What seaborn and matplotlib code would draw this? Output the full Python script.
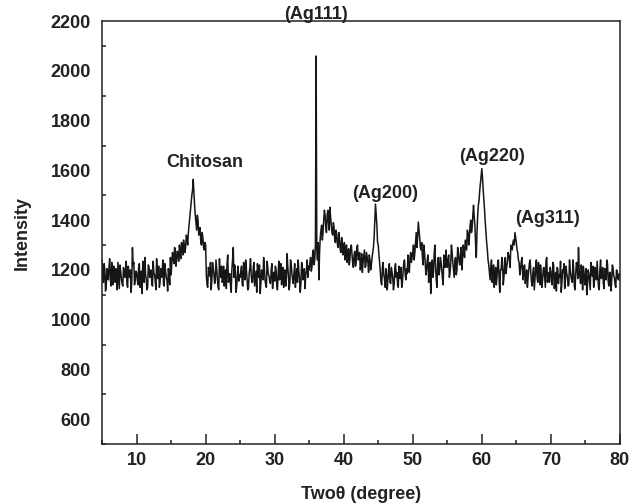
import numpy as np
import pandas as pd
import matplotlib
matplotlib.use("Agg")
import matplotlib.pyplot as plt
from matplotlib.ticker import MultipleLocator
import seaborn as sns

# Readings at 5.0, 5.2, ... 80.0 degrees (376 values)
intensity_even = [
    # 5.0 - 9.8
    1240, 1150, 1200, 1130, 1190, 1210, 1160, 1230, 1140, 1185, 1205, 1120, 1175, 1220, 1165, 1135, 1200, 1180, 1145, 1215, 1170, 1110, 1290, 1230, 1160,
    # 10.0 - 14.8
    1190, 1140, 1225, 1170, 1105, 1200, 1250, 1160, 1130, 1210, 1175, 1145, 1235, 1180, 1120, 1190, 1215, 1150, 1170, 1240, 1135, 1195, 1160, 1205, 1140,
    # 15.0 - 19.8
    1180, 1270, 1225, 1285, 1240, 1265, 1300, 1245, 1290, 1320, 1270, 1340, 1300, 1380, 1440, 1500, 1564, 1460, 1390, 1420, 1340, 1370, 1300, 1330, 1280,
    # 20.0 - 24.8
    1300, 1140, 1210, 1175, 1120, 1230, 1185, 1160, 1205, 1130, 1245, 1170, 1150, 1215, 1190, 1125, 1260, 1175, 1140, 1200, 1290, 1220, 1110, 1180, 1155,
    # 25.0 - 29.8
    1170, 1215, 1135, 1190, 1240, 1160, 1125, 1205, 1180, 1150, 1230, 1165, 1110, 1195, 1220, 1145, 1185, 1250, 1160, 1130, 1210, 1175, 1145, 1225, 1180,
    # 30.0 - 34.8
    1155, 1200, 1120, 1235, 1170, 1140, 1210, 1185, 1135, 1265, 1175, 1150, 1220, 1160, 1190, 1130, 1205, 1240, 1165, 1145, 1215, 1180, 1125, 1195, 1170,
    # 35.0 - 39.8
    1200, 1250, 1210, 1280, 1240, 2060, 1240, 1160, 1330, 1380, 1350, 1440, 1370, 1420, 1390, 1452, 1380, 1340, 1370, 1310, 1340, 1290, 1320, 1270, 1310,
    # 40.0 - 44.8
    1280, 1240, 1300, 1250, 1220, 1290, 1260, 1210, 1275, 1230, 1300, 1245, 1200, 1265, 1230, 1280, 1215, 1250, 1190, 1240, 1220, 1270, 1330, 1465, 1380,
    # 45.0 - 49.8
    1300, 1230, 1150, 1210, 1180, 1130, 1200, 1160, 1225, 1145, 1190, 1120, 1205, 1170, 1140, 1215, 1165, 1130, 1195, 1240, 1160, 1185, 1215, 1250, 1230,
    # 50.0 - 54.8
    1270, 1240, 1310, 1290, 1392, 1330, 1280, 1250, 1300, 1230, 1200, 1260, 1210, 1105, 1240, 1190, 1300, 1160, 1220, 1180, 1250, 1200, 1140, 1230, 1280,
    # 55.0 - 59.8
    1210, 1260, 1190, 1300, 1230, 1170, 1250, 1200, 1270, 1220, 1290, 1240, 1280, 1320, 1280, 1350, 1330, 1400, 1370, 1460, 1380, 1250, 1420, 1480, 1550,
    # 60.0 - 64.8
    1607, 1520, 1440, 1350, 1280, 1220, 1160, 1240, 1180, 1130, 1210, 1170, 1240, 1110, 1200, 1230, 1170, 1250, 1210, 1270, 1240, 1300, 1280, 1320, 1350,
    # 65.0 - 69.8
    1310, 1270, 1230, 1200, 1250, 1160, 1220, 1180, 1130, 1200, 1240, 1150, 1190, 1120, 1210, 1170, 1230, 1140, 1185, 1160, 1210, 1130, 1250, 1175, 1150,
    # 70.0 - 74.8
    1195, 1140, 1220, 1165, 1115, 1205, 1180, 1235, 1150, 1190, 1125, 1215, 1170, 1140, 1200, 1160, 1240, 1135, 1185, 1210, 1290, 1175, 1220, 1120, 1190,
    # 75.0 - 79.8
    1165, 1100, 1200, 1150, 1230, 1175, 1130, 1210, 1160, 1185, 1120, 1240, 1170, 1145, 1205, 1160, 1225, 1135, 1190, 1150, 1210, 1170, 1130, 1195, 1160,
    # 80.0
    1175,
]

# Readings at 5.1, 5.3, ... 79.9 degrees (375 values)
intensity_odd = [
    # 5.1 - 9.9
    1170, 1225, 1115, 1205, 1160, 1245, 1135, 1190, 1215, 1150, 1180, 1230, 1125, 1195, 1145, 1210, 1170, 1235, 1130, 1185, 1200, 1150, 1220, 1140, 1195,
    # 10.1 - 14.9
    1160, 1210, 1130, 1195, 1235, 1150, 1185, 1120, 1220, 1170, 1200, 1135, 1190, 1155, 1245, 1165, 1130, 1205, 1185, 1140, 1225, 1170, 1115, 1180, 1250,
    # 15.1 - 19.9
    1230, 1250, 1290, 1215, 1275, 1235, 1270, 1310, 1260, 1300, 1290, 1330, 1350, 1410, 1470, 1520, 1510, 1420, 1360, 1400, 1360, 1310, 1350, 1290, 1310,
    # 20.1 - 24.9
    1180, 1130, 1195, 1230, 1160, 1205, 1145, 1240, 1175, 1120, 1190, 1215, 1160, 1135, 1200, 1225, 1150, 1185, 1110, 1240, 1170, 1200, 1135, 1215, 1180,
    # 25.1 - 29.9
    1195, 1140, 1230, 1160, 1205, 1120, 1185, 1245, 1150, 1210, 1135, 1195, 1225, 1170, 1105, 1200, 1160, 1215, 1140, 1235, 1180, 1150, 1205, 1125, 1190,
    # 30.1 - 34.9
    1215, 1140, 1185, 1160, 1225, 1195, 1130, 1200, 1170, 1210, 1120, 1240, 1185, 1145, 1225, 1175, 1150, 1195, 1110, 1230, 1160, 1205, 1180, 1240, 1215,
    # 35.1 - 39.9
    1230, 1195, 1265, 1220, 1300, 1280, 1310, 1270, 1360, 1320, 1400, 1420, 1350, 1440, 1360, 1410, 1350, 1390, 1320, 1360, 1300, 1350, 1280, 1330, 1260,
    # 40.1 - 44.9
    1310, 1265, 1230, 1285, 1245, 1300, 1225, 1260, 1215, 1290, 1240, 1270, 1225, 1190, 1255, 1210, 1270, 1230, 1260, 1200, 1250, 1290, 1400, 1420, 1310,
    # 45.1 - 49.9
    1260, 1190, 1140, 1230, 1165, 1205, 1120, 1185, 1150, 1210, 1170, 1140, 1225, 1190, 1130, 1175, 1210, 1150, 1230, 1180, 1205, 1260, 1190, 1270, 1250,
    # 50.1 - 54.9
    1300, 1270, 1350, 1330, 1360, 1290, 1310, 1220, 1270, 1180, 1240, 1150, 1230, 1200, 1170, 1265, 1215, 1130, 1250, 1200, 1230, 1165, 1260, 1210, 1240,
    # 55.1 - 59.9
    1240, 1170, 1230, 1270, 1200, 1240, 1180, 1290, 1235, 1260, 1200, 1300, 1250, 1300, 1360, 1300, 1380, 1350, 1420, 1410, 1300, 1350, 1460, 1520, 1580,
    # 60.1 - 64.9
    1570, 1480, 1390, 1310, 1240, 1190, 1210, 1150, 1220, 1185, 1140, 1230, 1165, 1200, 1250, 1140, 1215, 1185, 1230, 1260, 1210, 1290, 1310, 1300, 1330,
    # 65.1 - 69.9
    1280, 1240, 1180, 1230, 1190, 1215, 1145, 1200, 1170, 1230, 1185, 1135, 1210, 1165, 1240, 1150, 1195, 1220, 1130, 1205, 1170, 1240, 1150, 1190, 1210,
    # 70.1 - 74.9
    1160, 1230, 1125, 1190, 1210, 1145, 1170, 1110, 1200, 1225, 1160, 1185, 1135, 1240, 1175, 1150, 1205, 1120, 1230, 1165, 1200, 1145, 1180, 1215, 1140,
    # 75.1 - 79.9
    1205, 1140, 1185, 1120, 1195, 1215, 1150, 1175, 1235, 1130, 1200, 1165, 1210, 1125, 1185, 1240, 1155, 1190, 1115, 1220, 1175, 1140, 1200, 1165, 1185,
]

peak_labels = ["Chitosan", "(Ag111)", "(Ag200)", "(Ag220)", "(Ag311)"]
label_x = [19.9, 36.0, 46.0, 61.5, 69.5]
label_y = [1632, 2228, 1507, 1656, 1408]

x_ticks = [10, 20, 30, 40, 50, 60, 70, 80]
y_ticks = [600, 800, 1000, 1200, 1400, 1600, 1800, 2000, 2200]

# Merge the two reading sets into one scan (5.0 .. 80.0, 0.1 degree steps)
two_theta = np.round(np.linspace(5.0, 80.0, 751), 1)
merged = []
for i in range(len(intensity_odd)):
    merged.append(intensity_even[i])
    merged.append(intensity_odd[i])
merged.append(intensity_even[-1])
df = pd.DataFrame({"two_theta": two_theta, "intensity": merged})

sns.set_style("ticks")
plt.rcParams["font.family"] = ["Liberation Sans", "DejaVu Sans"]

fig = plt.figure(figsize=(6.3, 5.04), dpi=100)
ax = fig.add_axes([0.162, 0.119, 0.822, 0.839])

sns.lineplot(data=df, x="two_theta", y="intensity", ax=ax, color="#161616",
             linewidth=1.1, estimator=None, sort=False)

ax.set_xlim(5, 80)
ax.set_ylim(500, 2200)
ax.set_xticks(x_ticks)
ax.set_yticks(y_ticks)
ax.xaxis.set_minor_locator(MultipleLocator(5))
ax.yaxis.set_minor_locator(MultipleLocator(100))
ax.tick_params(axis="both", which="both", direction="in", labelsize=13,
               width=1.1, color="#222222", labelcolor="#222222")
ax.tick_params(axis="x", which="major", length=7, pad=6)
ax.tick_params(axis="x", which="minor", length=3)
ax.tick_params(axis="y", which="major", length=0, pad=8)
ax.tick_params(axis="y", which="minor", length=3)
for lab in ax.get_xticklabels() + ax.get_yticklabels():
    lab.set_fontweight("bold")

for s in ax.spines.values():
    s.set_linewidth(1.1)
    s.set_color("#222222")
    s.set_visible(True)

ax.set_xlabel("Twoθ (degree)", fontsize=13, fontweight="bold", color="#222222", labelpad=12)
ax.set_ylabel("Intensity", fontsize=13, fontweight="bold", color="#222222", labelpad=14)

for t, xx, yy in zip(peak_labels, label_x, label_y):
    ax.text(xx, yy, t, ha="center", va="center", fontsize=13, fontweight="bold",
            color="#222222", clip_on=False)

fig.savefig("out.png", dpi=100)
